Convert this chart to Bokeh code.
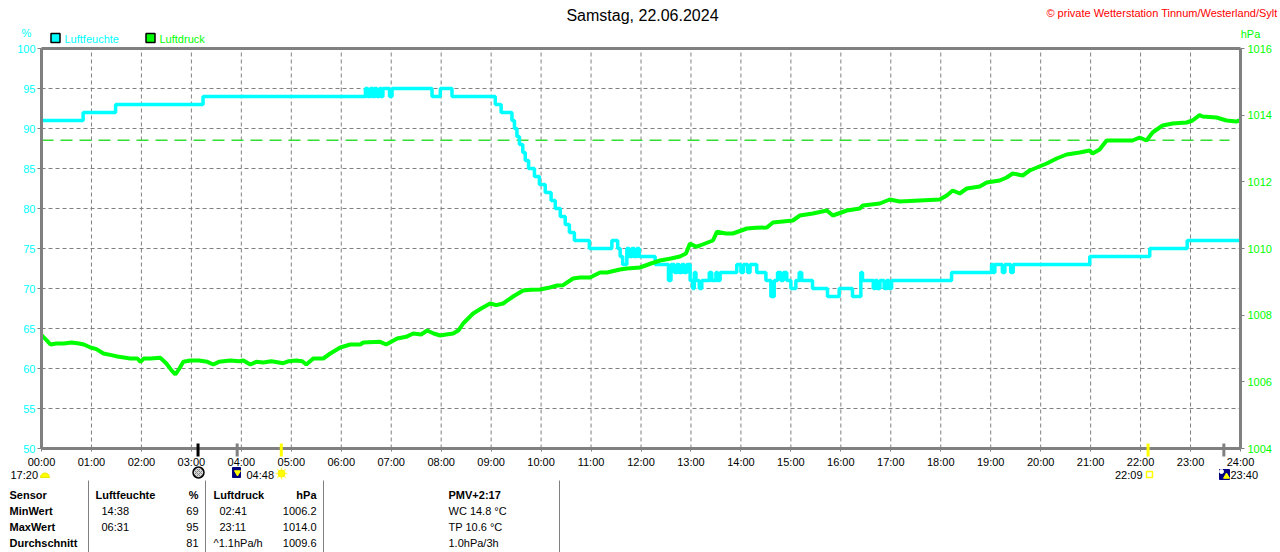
import numpy as np
from bokeh.plotting import figure
from bokeh.models import Range1d, LinearAxis, FixedTicker, Arrow
from bokeh.embed import file_html
from bokeh.resources import INLINE
from bokeh.core.properties import value

FONT = "Liberation Sans"
GRAY = "#808080"
CYAN = "#00FFFF"
GREEN = "#00FF00"

# ---------------- texts ----------------
title_text = "Samstag, 22.06.2024"
copyright_text = "\u00a9 private Wetterstation Tinnum/Westerland/Sylt"
series_names = ["Luftfeuchte", "Luftdruck"]
unit_left = "%"
unit_right = "hPa"

# ---------------- humidity (step series, %) ----------------
hum_time = ["00:00", "00:50", "01:29", "03:14", "06:29", "06:32", "06:35", "06:38",
            "06:40", "06:43", "06:46", "06:48", "06:50", "06:58", "07:01", "07:49",
            "07:59", "08:13", "09:05", "09:12", "09:25", "09:28", "09:31", "09:34",
            "09:38", "09:41", "09:45", "09:52", "09:58", "10:05", "10:12", "10:17",
            "10:23", "10:29", "10:34", "10:40", "10:58", "11:25", "11:32", "11:35",
            "11:38", "11:43", "11:46", "11:49", "11:52", "11:55", "11:58", "12:17",
            "12:33", "12:36", "12:40", "12:43", "12:46", "12:49", "12:52", "12:55",
            "12:59", "13:02", "13:04", "13:06", "13:10", "13:13", "13:22", "13:25",
            "13:30", "13:32", "13:35", "13:55", "14:00", "14:03", "14:08", "14:11",
            "14:19", "14:30", "14:36", "14:40", "14:44", "14:48", "14:51", "14:55",
            "15:00", "15:06", "15:10", "15:13", "15:26", "15:44", "15:58", "16:14",
            "16:24", "16:26", "16:39", "16:41", "16:44", "16:47", "16:52", "16:55",
            "16:58", "17:01", "18:13", "19:01", "19:03", "19:05", "19:14", "19:17",
            "19:24", "19:27", "20:59", "22:11", "22:56", "24:00"]
hum_val = [91, 92, 93, 94, 95, 94, 95, 94,
           95, 94, 95, 94, 95, 94, 95, 94,
           95, 94, 93, 92, 91, 90, 89, 88,
           87, 86, 85, 84, 83, 82, 81, 80,
           79, 78, 77, 76, 75, 76, 75, 74,
           73, 75, 74, 75, 74, 75, 74, 73,
           71, 73, 72, 73, 72, 73, 72, 73,
           71, 70, 72, 71, 70, 71, 72, 71,
           72, 71, 72, 73, 72, 73, 72, 73,
           72, 71, 69, 71, 72, 71, 72, 71,
           70, 71, 72, 71, 70, 69, 70, 69,
           72, 71, 70, 71, 70, 71, 70, 71,
           70, 71, 72, 73, 72, 73, 72, 73,
           72, 73, 74, 75, 76, 76]

# ---------------- pressure (hPa) ----------------
pres_hours = [0.00, 0.10, 0.18, 0.30, 0.45, 0.60, 0.75, 0.85, 0.98, 1.10,
              1.24, 1.40, 1.52, 1.78, 1.92, 1.98, 2.05, 2.18, 2.38, 2.50,
              2.60, 2.68, 2.76, 2.84, 2.98, 3.15, 3.32, 3.44, 3.55, 3.78,
              3.95, 4.04, 4.18, 4.30, 4.44, 4.60, 4.84, 4.95, 5.10, 5.22,
              5.30, 5.44, 5.64, 5.78, 5.98, 6.18, 6.38, 6.44, 6.78, 6.90,
              7.12, 7.30, 7.44, 7.60, 7.72, 7.85, 7.98, 8.10, 8.24, 8.35,
              8.44, 8.64, 8.80, 8.98, 9.10, 9.24, 9.44, 9.64, 9.80, 9.98,
              10.15, 10.32, 10.44, 10.64, 10.78, 10.98, 11.18, 11.32, 11.58, 11.72,
              11.98, 12.20, 12.38, 12.60, 12.78, 12.90, 12.98, 13.10, 13.18, 13.44,
              13.52, 13.70, 13.84, 14.12, 14.30, 14.52, 14.64, 15.04, 15.18, 15.44,
              15.72, 15.84, 16.12, 16.38, 16.44, 16.78, 16.98, 17.18, 17.58, 17.98,
              18.12, 18.24, 18.38, 18.52, 18.78, 18.92, 19.18, 19.32, 19.44, 19.64,
              19.78, 20.12, 20.32, 20.52, 20.78, 20.98, 21.04, 21.18, 21.32, 21.84,
              21.98, 22.12, 22.24, 22.44, 22.64, 22.92, 23.04, 23.18, 23.24, 23.52,
              23.72, 23.92, 24.00]
pres_val = [1007.40, 1007.25, 1007.12, 1007.15, 1007.15, 1007.18, 1007.15, 1007.12, 1007.03, 1006.98,
            1006.85, 1006.80, 1006.76, 1006.70, 1006.70, 1006.60, 1006.70, 1006.70, 1006.72, 1006.55,
            1006.35, 1006.22, 1006.40, 1006.60, 1006.64, 1006.64, 1006.60, 1006.52, 1006.60, 1006.64,
            1006.62, 1006.64, 1006.52, 1006.60, 1006.58, 1006.62, 1006.56, 1006.62, 1006.64, 1006.62,
            1006.52, 1006.70, 1006.70, 1006.85, 1007.03, 1007.12, 1007.12, 1007.18, 1007.20, 1007.12,
            1007.30, 1007.35, 1007.45, 1007.42, 1007.54, 1007.45, 1007.39, 1007.42, 1007.45, 1007.55,
            1007.75, 1008.05, 1008.20, 1008.35, 1008.30, 1008.35, 1008.56, 1008.74, 1008.76, 1008.77,
            1008.82, 1008.89, 1008.90, 1009.10, 1009.13, 1009.13, 1009.28, 1009.28, 1009.37, 1009.40,
            1009.43, 1009.55, 1009.64, 1009.70, 1009.76, 1009.85, 1010.15, 1010.05, 1010.09, 1010.24,
            1010.50, 1010.45, 1010.45, 1010.60, 1010.62, 1010.63, 1010.78, 1010.84, 1010.99, 1011.05,
            1011.14, 1010.99, 1011.14, 1011.20, 1011.29, 1011.35, 1011.47, 1011.41, 1011.44, 1011.47,
            1011.59, 1011.74, 1011.65, 1011.80, 1011.86, 1011.98, 1012.04, 1012.13, 1012.25, 1012.19,
            1012.34, 1012.55, 1012.70, 1012.82, 1012.88, 1012.94, 1012.85, 1012.97, 1013.24, 1013.24,
            1013.33, 1013.24, 1013.48, 1013.69, 1013.75, 1013.78, 1013.84, 1014.00, 1013.96, 1013.93,
            1013.84, 1013.81, 1013.85]
pressure_ref = 1013.25
pressure_ref_end = 23.78

# ---------------- axes ----------------
hour_ticks = list(range(0, 25))
hour_labels = ["%02d:00" % h for h in hour_ticks]
hum_ticks = list(range(50, 101, 5))
pres_ticks = list(range(1004, 1017, 2))

# ---------------- sun / moon events ----------------
event_time = ["03:08", "03:55", "04:48", "22:09", "23:40"]
event_color = ["#000000", GRAY, "#FFFF00", "#FFFF00", GRAY]
event_texts = ["17:20", "04:48", "22:09", "23:40"]

# ---------------- statistics table ----------------
table_header = ["Sensor", "Luftfeuchte", "%", "Luftdruck", "hPa"]
sensor_rows = ["MinWert", "MaxWert", "Durchschnitt"]
hum_stat_time = ["14:38", "06:31", ""]
hum_stat_val = ["69", "95", "81"]
pres_stat_time = ["02:41", "23:11", "^1.1hPa/h"]
pres_stat_val = ["1006.2", "1014.0", "1009.6"]
pmv_lines = ["PMV+2:17", "WC 14.8 \u00b0C", "TP 10.6 \u00b0C", "1.0hPa/3h"]


def to_h(t):
    hh, mm = t.split(":")
    return int(hh) + int(mm) / 60.0


# ---------------- layout (page pixels) ----------------
W, H = 1280, 552
FL, FR, FT, FB = 41, 1240, 48, 448      # chart box
hx = (FR - FL) / 24.0
hy = (FB - FT) / 50.0
hp = (FB - FT) / 12.0

p = figure(width=W, height=H, title=None,
           x_range=Range1d(-FL / hx, 24 + (W - FR) / hx),
           y_range=Range1d(50 - (H - FB) / hy, 100 + FT / hy),
           x_axis_type=None, y_axis_type=None,
           output_backend="svg", toolbar_location=None,
           min_border=0, min_border_left=0, min_border_right=0,
           min_border_top=0, min_border_bottom=0,
           background_fill_color="white", border_fill_color="white")
p.outline_line_color = None
p.extra_y_ranges = {"p": Range1d(1004 - (H - FB) / hp, 1016 + FT / hp),
                    "px": Range1d(H, 0)}
p.extra_x_ranges = {"px": Range1d(0, W)}


def txt(x, y, s, color="#000000", size="11px", align="left", bold=False):
    p.text(x=[x], y=[y], text=[s], x_range_name="px", y_range_name="px",
           text_font=value(FONT), text_font_size=size,
           text_color=color, text_align=align, text_baseline="middle",
           text_font_style="bold" if bold else "normal")


# ---- grid (dashed) ----
p.segment(x0=hour_ticks[1:-1], y0=50, x1=hour_ticks[1:-1], y1=100,
          line_color=GRAY, line_width=1, line_dash="4 3")
p.segment(x0=0, y0=hum_ticks[1:-1], x1=24, y1=hum_ticks[1:-1],
          line_color=GRAY, line_width=1, line_dash="4 3")
# top border of chart box
p.segment(x0=[0], y0=[100], x1=[24], y1=[100], line_color=GRAY, line_width=3)

# ---- axes ----
xa = LinearAxis(fixed_location=50, bounds=(0, 24), ticker=FixedTicker(ticks=hour_ticks))
xa.major_label_overrides = {h: l for h, l in zip(hour_ticks, hour_labels)}
xa.major_label_text_color = "#000000"
p.add_layout(xa, "below")

ya = LinearAxis(fixed_location=0, bounds=(50, 100), ticker=FixedTicker(ticks=hum_ticks))
ya.major_label_text_color = CYAN
p.add_layout(ya, "left")

ra = LinearAxis(fixed_location=24, bounds=(1004, 1016), y_range_name="p",
                ticker=FixedTicker(ticks=pres_ticks))
ra.major_label_text_color = GREEN
p.add_layout(ra, "right")

for ax in (xa, ya, ra):
    ax.axis_line_color = GRAY
    ax.axis_line_width = 3
    ax.major_tick_line_color = GRAY
    ax.major_tick_line_width = 1
    ax.major_tick_in = 0
    ax.major_tick_out = 4
    ax.minor_tick_line_color = None
    ax.major_label_text_font = FONT
    ax.major_label_text_font_size = "11px"
xa.major_tick_out = 3
xa.major_label_standoff = 4
ya.major_label_standoff = 2
ra.major_label_standoff = 3

# ---- series ----
p.line([0, pressure_ref_end], [pressure_ref, pressure_ref], y_range_name="p",
       line_color="#33DD33", line_width=1.5, line_dash="12 7")
p.step(x=[to_h(t) for t in hum_time], y=hum_val, mode="after",
       line_color=CYAN, line_width=3.5)
p.line(pres_hours, pres_val, y_range_name="p", line_color=GREEN, line_width=4)

# ---- sun / moon markers on the time axis ----
for t, c in zip(event_time, event_color):
    h = to_h(t)
    p.add_layout(Arrow(end=None, x_start=h, y_start=50.62, x_end=h, y_end=49.0,
                       line_color=c, line_width=3))

# ---- header ----
txt(642, 15, title_text, color="#000000", size="16px", align="center")
txt(1277, 12, copyright_text, color="#FF0000", size="11px", align="right")
txt(26, 32, unit_left, color=CYAN, align="center")
txt(1250, 33, unit_right, color=GREEN, align="center")
p.rect(x=[55, 150], y=[37.5, 37.5], width=9, height=9,
       x_range_name="px", y_range_name="px",
       fill_color=[CYAN, GREEN], line_color="#000000", line_width=1.5)
txt(64, 38, series_names[0], color=CYAN)
txt(159, 38, series_names[1], color=GREEN)

# ---- sun / moon icons below the axis ----
p.wedge(x=[44.5], y=[477], radius=4.5, start_angle=0, end_angle=np.pi,
        x_range_name="px", y_range_name="px",
        fill_color="#FFFF00", line_color="#E8E800", line_width=1)
p.scatter(x=[198], y=[472], marker="circle", size=11, fill_color="#D8D8D8",
          x_range_name="px", y_range_name="px",
          hatch_pattern="x", hatch_color="#808080", hatch_scale=4,
          line_color="#000000", line_width=1.5)
p.rect(x=[236, 1224], y=[472, 474], width=[8, 10], height=[10, 10],
       x_range_name="px", y_range_name="px",
       fill_color="#000080", line_color="#000080")
p.scatter(x=[237], y=[472], marker="inverted_triangle", size=6,
          x_range_name="px", y_range_name="px",
          fill_color="#FFFF00", line_color="#FFFF00")
p.scatter(x=[1226], y=[476], marker="triangle", size=6,
          x_range_name="px", y_range_name="px",
          fill_color="#FFFF00", line_color="#FFFF00")
p.scatter(x=[1221], y=[471], marker="circle", size=4,
          x_range_name="px", y_range_name="px",
          fill_color="#FFFFFF", line_color="#FFFFFF")
p.scatter(x=[281], y=[473], marker="asterisk", size=12,
          x_range_name="px", y_range_name="px", line_color="#FFFF70", line_width=1.5)
p.scatter(x=[281], y=[473], marker="circle", size=7,
          x_range_name="px", y_range_name="px", fill_color="#FFFF00", line_color="#FFEE00")
p.scatter(x=[1149], y=[474], marker="square", size=6, fill_color=None,
          x_range_name="px", y_range_name="px", line_color="#FFFF00", line_width=1.5)

txt(10, 474, event_texts[0])
txt(246, 474, event_texts[1])
txt(1142, 474, event_texts[2], align="right")
txt(1230, 474, event_texts[3])

# ---- statistics table ----
p.segment(x0=[88, 205, 323, 559], y0=480, x1=[88, 205, 323, 559], y1=552,
          x_range_name="px", y_range_name="px", line_color=GRAY, line_width=1)

row_y = [494, 510, 526, 542]
txt(9, row_y[0], table_header[0], bold=True)
txt(95, row_y[0], table_header[1], bold=True)
txt(198, row_y[0], table_header[2], bold=True, align="right")
txt(213, row_y[0], table_header[3], bold=True)
txt(316, row_y[0], table_header[4], bold=True, align="right")
for i in range(3):
    yy = row_y[i + 1]
    txt(9, yy, sensor_rows[i], bold=True)
    if hum_stat_time[i]:
        txt(101, yy, hum_stat_time[i])
    txt(198, yy, hum_stat_val[i], align="right")
    ptx = 219 if ":" in pres_stat_time[i] else 213
    txt(ptx, yy, pres_stat_time[i])
    txt(316, yy, pres_stat_val[i], align="right")
for i, s in enumerate(pmv_lines):
    txt(448, row_y[i], s, bold=(i == 0))

open("out.html", "w").write(file_html(p, INLINE))
